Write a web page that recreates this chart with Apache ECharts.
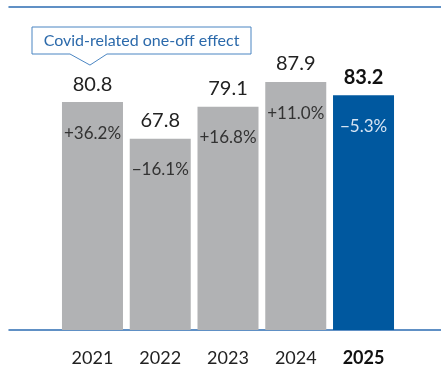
<!DOCTYPE html>
<html>
<head>
<meta charset="utf-8">
<script src="https://cdn.jsdelivr.net/npm/echarts@6/dist/echarts.min.js"></script>
<style>
  html, body { margin: 0; padding: 0; background: #fff; }
  #chart { width: 441px; height: 380px; }
</style>
</head>
<body>
<div id="chart"></div>
<script>
// Annual figures with year-on-year change
const years = ['2021', '2022', '2023', '2024', '2025'];
const values = [80.8, 67.8, 79.1, 87.9, 83.2];
const changes = ['+36.2%', '\u221216.1%', '+16.8%', '+11.0%', '\u22125.3%'];
const calloutText = 'Covid-related one-off effect';

const FONT = 'Lato, "Open Sans", sans-serif';
const GREY = '#b1b2b4';
const BLUE = '#00589f';
const LINE = '#2c6cb2';
const last = years.length - 1;

const chart = echarts.init(document.getElementById('chart'), null, { renderer: 'canvas' });

chart.setOption({
  animation: false,
  grid: [
    { left: 58.6, right: 43.6, top: 7, bottom: 50 },
    { left: 9, right: 0, top: 7, bottom: 50 }
  ],
  xAxis: [
    {
      type: 'category', gridIndex: 0, data: years,
      axisLine: { show: false }, axisTick: { show: false },
      axisLabel: {
        interval: 0, margin: 19, fontFamily: FONT, fontSize: 18, color: '#222',
        formatter: (v, i) => i === last ? '{b|' + v + '}' : v,
        rich: { b: { fontFamily: FONT, fontSize: 18, fontWeight: 'bold', color: '#111' } }
      }
    },
    {
      type: 'value', gridIndex: 1, min: 0, max: 1, position: 'bottom',
      axisLine: { show: true, lineStyle: { color: LINE, width: 1.5 } },
      axisTick: { show: false }, axisLabel: { show: false }, splitLine: { show: false }
    },
    {
      type: 'value', gridIndex: 1, min: 0, max: 1, position: 'top',
      axisLine: { show: true, lineStyle: { color: LINE, width: 1.5 } },
      axisTick: { show: false }, axisLabel: { show: false }, splitLine: { show: false }
    }
  ],
  yAxis: [
    { type: 'value', gridIndex: 0, min: 0, max: 114.5, show: false },
    { type: 'value', gridIndex: 1, min: 0, max: 1, show: false }
  ],
  series: [
    {
      type: 'bar', xAxisIndex: 0, yAxisIndex: 0, z: 3,
      barWidth: 61,
      data: values.map((v, i) => ({
        value: v,
        itemStyle: { color: i === last ? BLUE : GREY }
      })),
      label: {
        show: true, position: 'top', distance: 8,
        fontFamily: FONT, fontSize: 20, color: '#222',
        formatter: p => p.dataIndex === last ? '{b|' + p.value.toFixed(1) + '}' : p.value.toFixed(1),
        rich: { b: { fontFamily: FONT, fontSize: 20, fontWeight: 'bold', color: '#111' } }
      }
    },
    {
      // change labels inside each bar
      type: 'bar', xAxisIndex: 0, yAxisIndex: 0, z: 4,
      barWidth: 61, barGap: '-100%', silent: true,
      itemStyle: { color: 'transparent' },
      data: values.map((v, i) => ({
        value: v,
        label: i === last ? { color: '#d6e4f3' } : {}
      })),
      label: {
        show: true, position: 'insideTop', distance: 22.5,
        fontFamily: FONT, fontSize: 17, color: '#333',
        formatter: p => changes[p.dataIndex]
      }
    }
  ]
});

// Callout pointing at the first bar's value
function drawCallout() {
  const tip = chart.convertToPixel({ xAxisIndex: 0, yAxisIndex: 0 }, [0, values[0]]);
  const tipX = tip[0] - 2.5;
  const tipY = tip[1] - 37;
  const boxL = 32, boxR = 251, boxT = 27, boxB = 54;
  chart.setOption({
    graphic: [
      {
        type: 'polygon', z: 10,
        shape: {
          points: [
            [boxL, boxT], [boxR, boxT], [boxR, boxB],
            [tipX + 17, boxB], [tipX, tipY], [tipX - 20, boxB],
            [boxL, boxB]
          ]
        },
        style: { fill: '#fff', stroke: '#4a85c2', lineWidth: 1 }
      },
      {
        type: 'text', z: 11,
        x: (boxL + boxR) / 2, y: (boxT + boxB) / 2 + 0.5,
        style: {
          text: calloutText, fill: '#2c6aab',
          font: '16px ' + FONT, align: 'center', verticalAlign: 'middle'
        }
      }
    ]
  });
}
drawCallout();
</script>
</body>
</html>
